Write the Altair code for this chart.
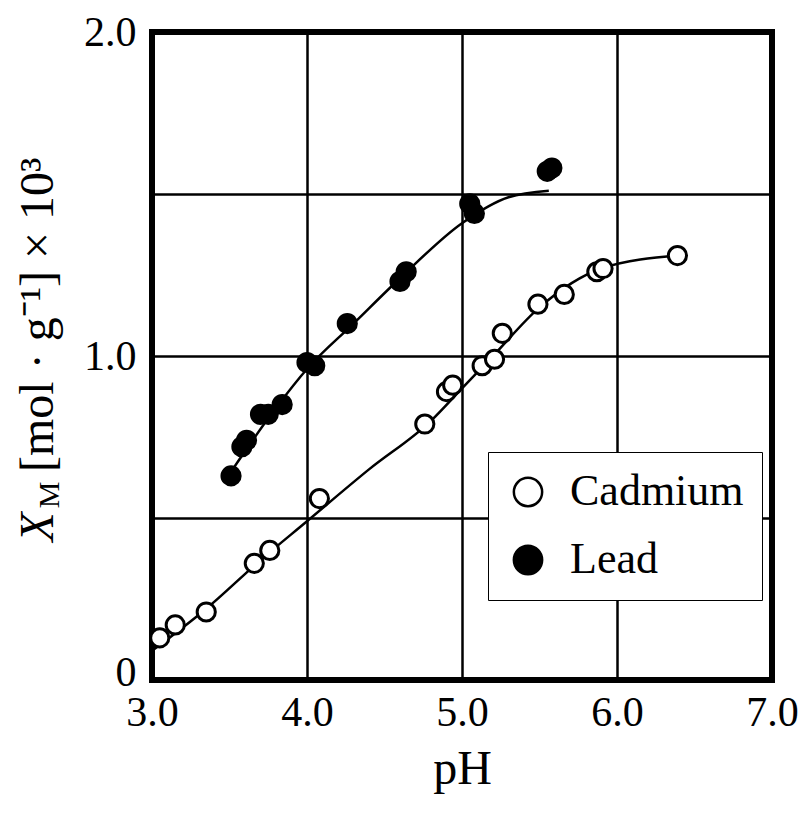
import altair as alt
import pandas as pd

cd_ph = [3.05, 3.15, 3.35, 3.66, 3.76, 4.08, 4.76, 4.90, 4.94, 5.13, 5.21, 5.26, 5.49, 5.66, 5.87, 5.91, 6.39]
cd_x = [0.13, 0.17, 0.21, 0.36, 0.40, 0.56, 0.79, 0.89, 0.91, 0.97, 0.99, 1.07, 1.16, 1.19, 1.26, 1.27, 1.31]
pb_ph = [3.51, 3.58, 3.61, 3.70, 3.75, 3.84, 4.00, 4.05, 4.26, 4.60, 4.64, 5.05, 5.08, 5.55, 5.58]
pb_x = [0.63, 0.72, 0.74, 0.82, 0.82, 0.85, 0.98, 0.97, 1.10, 1.23, 1.26, 1.47, 1.44, 1.57, 1.58]

# Fitted curves
cd_curve_ph = [3.0, 3.35, 3.7, 4.0, 4.4, 4.8, 5.0, 5.2, 5.5, 5.9, 6.4]
cd_curve_x = [0.09, 0.22, 0.37, 0.49, 0.65, 0.80, 0.90, 1.00, 1.15, 1.27, 1.31]
pb_curve_ph = [3.52, 3.8, 4.0, 4.3, 4.6, 5.0, 5.3, 5.56]
pb_curve_x = [0.65, 0.84, 0.96, 1.10, 1.24, 1.41, 1.49, 1.51]

series = ["Cadmium", "Lead"]

pts = pd.DataFrame({
    "pH": cd_ph + pb_ph,
    "X": cd_x + pb_x,
    "metal": [series[0]] * len(cd_ph) + [series[1]] * len(pb_ph),
})
curves = pd.DataFrame({
    "pH": cd_curve_ph + pb_curve_ph,
    "X": cd_curve_x + pb_curve_x,
    "metal": [series[0]] * len(cd_curve_ph) + [series[1]] * len(pb_curve_ph),
})

FONT = "Liberation Serif"

xscale = alt.Scale(domain=[3, 7], nice=False)
yscale = alt.Scale(domain=[0, 2], nice=False)

xaxis = alt.Axis(values=[3, 4, 5, 6, 7], format=".1f", title="pH", grid=True,
                 ticks=False, domain=False, labelPadding=12, titlePadding=12,
                 labelFontSize=42, titleFontSize=48, labelFont=FONT, titleFont=FONT,
                 titleFontWeight="normal", labelColor="black", titleColor="black",
                 gridColor="black", gridWidth=2.5, gridOpacity=1, labelFlush=False)
yaxis = alt.Axis(values=[0, 0.5, 1.0, 1.5, 2.0], title=None, grid=True, ticks=False, domain=False,
                 labelExpr="datum.value == 0 ? '0' : (datum.value % 1 == 0 ? format(datum.value, '.1f') : '')",
                 labelOffset={"condition": {"test": "datum.value == 0", "value": -8}, "value": 0},
                 labelPadding=16, labelFontSize=42, labelFont=FONT, labelColor="black",
                 gridColor="black", gridWidth=2.5, gridOpacity=1, labelFlush=False)

lines = alt.Chart(curves).mark_line(color="black", strokeWidth=2.5, interpolate="monotone").encode(
    x=alt.X("pH:Q", scale=xscale, axis=xaxis),
    y=alt.Y("X:Q", scale=yscale, axis=yaxis),
    detail="metal:N",
)

points = alt.Chart(pts).mark_point(filled=True, size=330, stroke="black", strokeWidth=3, opacity=1).encode(
    x=alt.X("pH:Q", scale=xscale),
    y=alt.Y("X:Q", scale=yscale),
    fill=alt.Fill("metal:N", scale=alt.Scale(domain=series, range=["white", "black"]),
                  legend=alt.Legend(title=None, orient="none", legendX=336, legendY=420,
                                    labelFont=FONT, labelFontSize=44, labelColor="black",
                                    symbolType="circle", symbolSize=800, symbolStrokeColor="black",
                                    symbolStrokeWidth=2.5, rowPadding=24, padding=18,
                                    strokeColor="black", fillColor="white", labelOffset=20,
                                    labelLimit=400)),
)

yt_x = alt.Chart(pd.DataFrame({"t": ["X"]})).mark_text(
    font=FONT, fontSize=48, fontStyle="italic", angle=270,
    baseline="middle", align="center", color="black").encode(
    text="t:N", x=alt.value(-113), y=alt.value(495))
yt_m = alt.Chart(pd.DataFrame({"t": ["M"]})).mark_text(
    font=FONT, fontSize=30, angle=270,
    baseline="middle", align="center", color="black").encode(
    text="t:N", x=alt.value(-102), y=alt.value(463))
yt_r = alt.Chart(pd.DataFrame({"t": ["[mol · g⁻¹] × 10³"]})).mark_text(
    font=FONT, fontSize=48, angle=270,
    baseline="middle", align="left", color="black").encode(
    text="t:N", x=alt.value(-113), y=alt.value(440))

chart = alt.layer(lines, points, yt_x, yt_m, yt_r).properties(
    width=620, height=648,
    autosize=alt.AutoSizeParams(type="none"),
    padding={"left": 144, "top": 24, "right": 28, "bottom": 120},
).configure(background="white").configure_view(stroke="black", strokeWidth=6)

chart.save("out.html", embed_options={"renderer": "svg", "actions": False})
